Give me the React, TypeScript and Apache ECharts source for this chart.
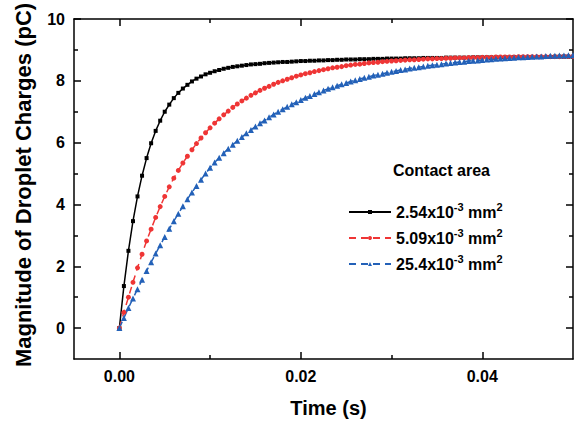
import React, { useEffect, useRef } from "react";
import * as echarts from "echarts";

// sampling grid of the curves (s), one point every 0.5 ms
const times: number[] = Array.from({ length: 101 }, (_, i) => +(i * 0.0005).toFixed(4));

const seriesNames = ["2.54x10-3 mm2", "5.09x10-3 mm2", "25.4x10-3 mm2"];

const charge254 = [
  0, 1.36, 2.5, 3.46, 4.26, 4.93, 5.5, 5.98, 6.38, 6.71,
  7.0, 7.23, 7.44, 7.61, 7.75, 7.87, 7.98, 8.07, 8.14, 8.21,
  8.26, 8.31, 8.35, 8.39, 8.42, 8.45, 8.47, 8.49, 8.51, 8.53,
  8.54, 8.55, 8.57, 8.58, 8.59, 8.6, 8.61, 8.61, 8.62, 8.63,
  8.64, 8.64, 8.65, 8.65, 8.66, 8.66, 8.67, 8.67, 8.68, 8.68,
  8.69, 8.69, 8.69, 8.7, 8.7, 8.7, 8.71, 8.71, 8.71, 8.72,
  8.72, 8.72, 8.72, 8.73, 8.73, 8.73, 8.73, 8.74, 8.74, 8.74,
  8.74, 8.74, 8.75, 8.75, 8.75, 8.75, 8.75, 8.75, 8.76, 8.76,
  8.76, 8.76, 8.76, 8.76, 8.76, 8.76, 8.77, 8.77, 8.77, 8.77,
  8.77, 8.77, 8.77, 8.77, 8.77, 8.77, 8.78, 8.78, 8.78, 8.78, 8.78,
];

const charge509 = [
  0, 0.51, 1.0, 1.48, 1.95, 2.39, 2.82, 3.2, 3.58, 3.93,
  4.26, 4.57, 4.85, 5.1, 5.34, 5.56, 5.77, 5.97, 6.15, 6.32,
  6.48, 6.63, 6.77, 6.9, 7.02, 7.14, 7.25, 7.35, 7.44, 7.53,
  7.61, 7.69, 7.76, 7.82, 7.89, 7.95, 8.0, 8.05, 8.1, 8.15,
  8.19, 8.23, 8.26, 8.3, 8.33, 8.36, 8.39, 8.42, 8.44, 8.46,
  8.49, 8.51, 8.53, 8.54, 8.56, 8.58, 8.59, 8.6, 8.62, 8.63,
  8.64, 8.65, 8.66, 8.67, 8.68, 8.68, 8.69, 8.7, 8.71, 8.71,
  8.72, 8.72, 8.73, 8.73, 8.74, 8.74, 8.74, 8.75, 8.75, 8.75,
  8.76, 8.76, 8.76, 8.77, 8.77, 8.77, 8.77, 8.77, 8.78, 8.78,
  8.78, 8.78, 8.78, 8.78, 8.78, 8.78, 8.78, 8.78, 8.79, 8.79, 8.79,
];

const charge254b = [
  0, 0.33, 0.65, 0.96, 1.26, 1.56, 1.85, 2.13, 2.41, 2.68,
  2.95, 3.21, 3.46, 3.7, 3.94, 4.17, 4.39, 4.6, 4.8, 5.0,
  5.19, 5.36, 5.51, 5.66, 5.8, 5.93, 6.06, 6.18, 6.3, 6.41,
  6.52, 6.63, 6.72, 6.82, 6.91, 7.0, 7.08, 7.16, 7.24, 7.31,
  7.38, 7.45, 7.51, 7.57, 7.63, 7.69, 7.74, 7.79, 7.84, 7.89,
  7.93, 7.98, 8.02, 8.06, 8.1, 8.13, 8.17, 8.2, 8.23, 8.26,
  8.29, 8.32, 8.35, 8.37, 8.4, 8.42, 8.44, 8.46, 8.49, 8.5,
  8.52, 8.54, 8.56, 8.58, 8.59, 8.61, 8.62, 8.64, 8.65, 8.66,
  8.67, 8.69, 8.7, 8.71, 8.72, 8.73, 8.74, 8.75, 8.76, 8.76,
  8.77, 8.78, 8.79, 8.79, 8.8, 8.81, 8.81, 8.82, 8.82, 8.83, 8.83,
];

const xMajor = [0, 0.02, 0.04];
const xMinor = [0.01, 0.03];
const yMajor = [0, 2, 4, 6, 8, 10];
const yMinor = [1, 3, 5, 7, 9];

const FONT = "Liberation Sans";

export default function App() {
  const ref = useRef<HTMLDivElement>(null);
  useEffect(() => {
    if (!ref.current) return;
    const chart = echarts.init(ref.current, null, { renderer: "svg" });
    const axisLine = { show: true, onZero: false, lineStyle: { color: "#000", width: 1.5 } };
    const noLine = { show: false, onZero: false };
    const xBase = { type: "value", min: -0.005, max: 0.05, gridIndex: 0, splitLine: { show: false } };
    const yBase = { type: "value", min: -1, max: 10, gridIndex: 0, splitLine: { show: false } };
    const tick = (vals: number[], len: number) => ({
      show: true,
      inside: true,
      length: len,
      customValues: vals,
      lineStyle: { color: "#000", width: 1.5 },
    });
    const labelStyle = { fontFamily: FONT, fontWeight: "bold", fontSize: 16, color: "#000" };
    const mk = (arr: number[]) => times.map((t, i) => [t, arr[i]]);
    const option: any = {
      animation: false,
      grid: { left: 74, top: 19, right: 1, bottom: 59, containLabel: false },
      xAxis: [
        {
          ...xBase,
          position: "bottom",
          axisLine,
          axisTick: tick(xMajor, 7),
          axisLabel: { ...labelStyle, customValues: xMajor, margin: 9, formatter: (v: number) => v.toFixed(2) },
          name: "Time (s)",
          nameLocation: "middle",
          nameGap: 39,
          nameTextStyle: { fontFamily: FONT, fontWeight: "bold", fontSize: 20, color: "#000", padding: [0, 0, 0, 10] },
        },
        { ...xBase, position: "top", axisLine, axisTick: tick(xMajor, 7), axisLabel: { show: false } },
        { ...xBase, position: "bottom", axisLine: noLine, axisTick: tick(xMinor, 4), axisLabel: { show: false } },
        { ...xBase, position: "top", axisLine: noLine, axisTick: tick(xMinor, 4), axisLabel: { show: false } },
      ],
      yAxis: [
        {
          ...yBase,
          position: "left",
          axisLine,
          axisTick: tick(yMajor, 7),
          axisLabel: { ...labelStyle, customValues: yMajor, margin: 9 },
          name: "Magnitude of Droplet Charges (pC)",
          nameLocation: "middle",
          nameGap: 40,
          nameRotate: 90,
          nameTextStyle: { fontFamily: FONT, fontWeight: "bold", fontSize: 22, color: "#000", padding: [0, 0, 0, 8] },
        },
        { ...yBase, position: "right", axisLine, axisTick: tick(yMajor, 7), axisLabel: { show: false } },
        { ...yBase, position: "left", axisLine: noLine, axisTick: tick(yMinor, 4), axisLabel: { show: false } },
        { ...yBase, position: "right", axisLine: noLine, axisTick: tick(yMinor, 4), axisLabel: { show: false } },
      ],
      legend: {
        orient: "vertical",
        left: 343,
        top: 196,
        itemWidth: 42,
        itemHeight: 5,
        itemGap: 4,
        data: seriesNames,
        formatter: (name: string) => name.replace("-3", "{sup|-3}").replace(/mm2$/, "mm{sup|2}"),
        textStyle: {
          ...labelStyle,
          lineHeight: 22,
          rich: {
            sup: { fontFamily: FONT, fontWeight: "bold", fontSize: 11, color: "#000", verticalAlign: "top", lineHeight: 11 },
          },
        },
      },
      graphic: [
        {
          type: "text",
          left: 393,
          top: 162,
          style: { text: "Contact area", fontFamily: FONT, fontWeight: "bold", fontSize: 16, fill: "#000" },
        },
      ],
      series: [
        {
          name: seriesNames[0],
          type: "line",
          data: mk(charge254),
          symbol: "rect",
          symbolSize: 4,
          color: "#000000",
          lineStyle: { color: "#000000", width: 1.5 },
          itemStyle: { color: "#000000" },
        },
        {
          name: seriesNames[1],
          type: "line",
          data: mk(charge509),
          symbol: "circle",
          symbolSize: 5,
          color: "#ef3535",
          lineStyle: { color: "#ef3535", width: 1.5, type: [7, 5] },
          itemStyle: { color: "#ef3535" },
        },
        {
          name: seriesNames[2],
          type: "line",
          data: mk(charge254b),
          symbol: "triangle",
          symbolSize: 6,
          color: "#2361b8",
          lineStyle: { color: "#2361b8", width: 1.5, type: [7, 5] },
          itemStyle: { color: "#2361b8" },
        },
      ],
    };
    chart.setOption(option);
    return () => chart.dispose();
  }, []);
  return (
    <div
      ref={ref}
      style={{ position: "fixed", left: 0, top: 0, width: 574, height: 423, background: "#fff" }}
    />
  );
}
